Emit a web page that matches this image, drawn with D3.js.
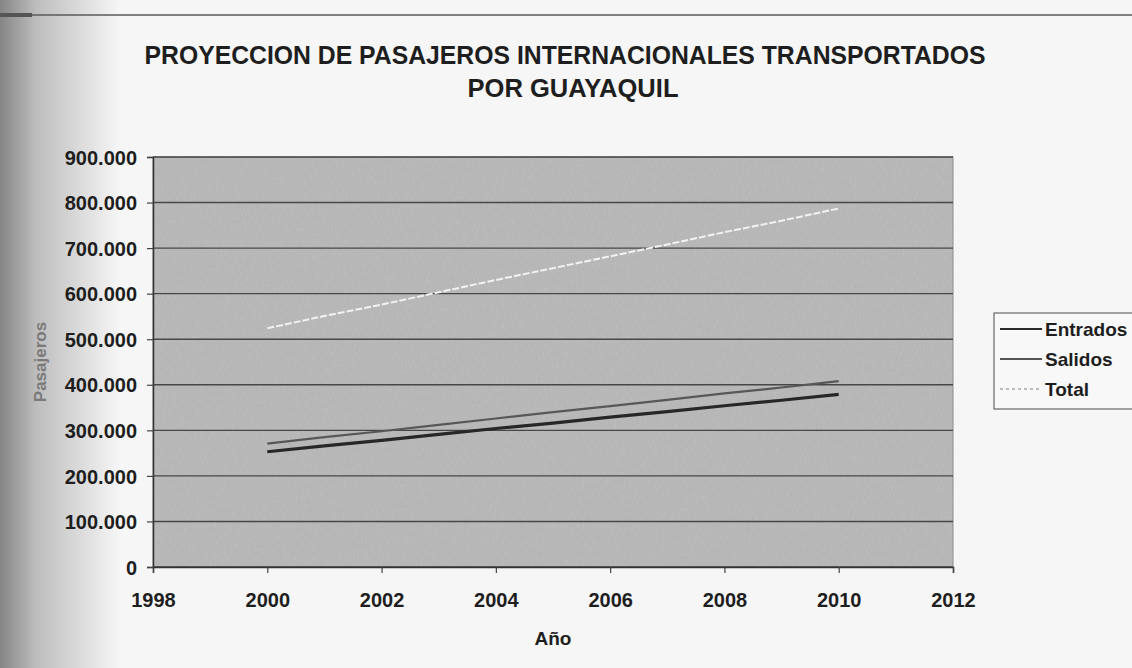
<!DOCTYPE html>
<html>
<head>
<meta charset="utf-8">
<script src="https://cdnjs.cloudflare.com/ajax/libs/d3/7.8.5/d3.min.js"></script>
<style>
    body { margin: 0; background: #f6f6f6; }
    svg { display: block; font-family: "Liberation Sans", Arial, sans-serif; font-weight: bold; }
</style>
</head>
<body>
<div class="chart"></div>
<script>
// Data (pasajeros)
var years = [2000, 2001, 2002, 2003, 2004, 2005, 2006, 2007, 2008, 2009, 2010];
var entrados = [253000, 266000, 278000, 291000, 304000, 316000, 329000, 341000, 354000, 366000, 379000];
var salidos = [271000, 285000, 298000, 312000, 326000, 340000, 353000, 367000, 381000, 394000, 408000];
var total = [524000, 551000, 576000, 603000, 630000, 656000, 682000, 708000, 735000, 760000, 787000];
var seriesNames = ["Entrados", "Salidos", "Total"];
var xTicks = [1998, 2000, 2002, 2004, 2006, 2008, 2010, 2012];
var yTicks = [0, 100000, 200000, 300000, 400000, 500000, 600000, 700000, 800000, 900000];

var width = 1132,
    height = 668;

var plot = {
    left: 153,
    right: 953,
    top: 157,
    bottom: 567
};

var svg = d3.select(".chart")
    .append("svg")
    .attr("width", width)
    .attr("height", height);

// scan shading on the left edge
var defs = svg.append("defs");
var grad = defs.append("linearGradient")
    .attr("id", "edge")
    .attr("x1", "0").attr("x2", "1")
    .attr("y1", "0").attr("y2", "0");
grad.append("stop").attr("offset", "0").attr("stop-color", "#858585");
grad.append("stop").attr("offset", "0.3").attr("stop-color", "#bdbdbd");
grad.append("stop").attr("offset", "1").attr("stop-color", "#f6f6f6");

// grain for the printed plot area
var grain = defs.append("filter")
    .attr("id", "grain")
    .attr("x", 0).attr("y", 0)
    .attr("width", 1).attr("height", 1);
grain.append("feTurbulence")
    .attr("type", "fractalNoise")
    .attr("baseFrequency", "0.9 0.25")
    .attr("numOctaves", 2)
    .attr("seed", 4)
    .attr("result", "noise");
grain.append("feColorMatrix")
    .attr("in", "noise")
    .attr("type", "matrix")
    .attr("values", "0 0 0 0 0.95  0 0 0 0 0.95  0 0 0 0 0.95  0.6 0 0 0 -0.25");

svg.append("rect")
    .attr("x", 0).attr("y", 0)
    .attr("width", 120).attr("height", height)
    .attr("fill", "url(#edge)");

// top rule of the page
svg.append("line")
    .attr("x1", 0).attr("x2", width)
    .attr("y1", 15).attr("y2", 15)
    .attr("stroke", "#5a5a5a")
    .attr("stroke-width", 1.5);
svg.append("rect")
    .attr("x", 0).attr("y", 13)
    .attr("width", 32).attr("height", 4)
    .attr("fill", "#555");

// scales
var x = d3.scaleLinear()
    .domain([1998, 2012])
    .range([plot.left, plot.right]);

var y = d3.scaleLinear()
    .domain([0, 900000])
    .range([plot.bottom, plot.top]);

// plot area
svg.append("rect")
    .attr("x", plot.left)
    .attr("y", plot.top)
    .attr("width", plot.right - plot.left)
    .attr("height", plot.bottom - plot.top)
    .attr("fill", "#b6b6b6")
    .attr("stroke", "#8a8a8a")
    .attr("stroke-width", 1);

svg.append("rect")
    .attr("x", plot.left)
    .attr("y", plot.top)
    .attr("width", plot.right - plot.left)
    .attr("height", plot.bottom - plot.top)
    .attr("fill", "#fff")
    .attr("filter", "url(#grain)")
    .attr("opacity", 0.35);

// gridlines
svg.append("g")
    .selectAll("line")
    .data(yTicks)
    .enter().append("line")
    .attr("x1", plot.left)
    .attr("x2", plot.right)
    .attr("y1", function (d) { return y(d); })
    .attr("y2", function (d) { return y(d); })
    .attr("stroke", "#474747")
    .attr("stroke-width", 1.4);

var fmt = function (d) {
    return d === 0 ? "0" : d3.format(",")(d).replace(/,/g, ".");
};

// axes
var yAxis = svg.append("g")
    .attr("transform", "translate(" + plot.left + ",0)")
    .call(d3.axisLeft(y).tickValues(yTicks).tickFormat(fmt).tickSize(6).tickPadding(10));

var xAxis = svg.append("g")
    .attr("transform", "translate(0," + plot.bottom + ")")
    .call(d3.axisBottom(x).tickValues(xTicks).tickFormat(d3.format("d")).tickSize(6).tickPadding(20));

[yAxis, xAxis].forEach(function (a) {
    a.select(".domain").attr("stroke", "#333").attr("stroke-width", 1.5);
    a.selectAll(".tick line").attr("stroke", "#444").attr("stroke-width", 1.2);
    a.selectAll(".tick text")
        .attr("fill", "#1e1e1e")
        .style("font-size", "20px")
        .style("font-family", "'Liberation Sans', Arial, sans-serif")
        .style("font-weight", "bold");
});
yAxis.selectAll(".tick text").attr("dy", "0.36em");

// lines
var styles = [
    { stroke: "#272727", width: 3.2, dash: null, legendStroke: "#2a2a2a", legendDash: null },
    { stroke: "#575757", width: 2.2, dash: null, legendStroke: "#555", legendDash: null },
    { stroke: "#f2f2f2", width: 2, dash: "7 2", legendStroke: "#a8a8a8", legendDash: "3 3" }
];

var seriesValues = [entrados, salidos, total];

var line = d3.line()
    .x(function (d, i) { return x(years[i]); })
    .y(function (d) { return y(d); });

svg.append("g")
    .selectAll("path")
    .data(seriesValues)
    .enter().append("path")
    .attr("d", line)
    .attr("fill", "none")
    .attr("stroke", function (d, i) { return styles[i].stroke; })
    .attr("stroke-width", function (d, i) { return styles[i].width; })
    .attr("stroke-dasharray", function (d, i) { return styles[i].dash; });

// title
svg.append("text")
    .attr("x", 565)
    .attr("y", 64)
    .attr("text-anchor", "middle")
    .attr("textLength", 841)
    .attr("lengthAdjust", "spacingAndGlyphs")
    .attr("fill", "#1e1e1e")
    .style("font-size", "26px")
    .text("PROYECCION DE PASAJEROS INTERNACIONALES TRANSPORTADOS");

svg.append("text")
    .attr("x", 573)
    .attr("y", 97)
    .attr("text-anchor", "middle")
    .attr("textLength", 211)
    .attr("lengthAdjust", "spacingAndGlyphs")
    .attr("fill", "#1e1e1e")
    .style("font-size", "26px")
    .text("POR GUAYAQUIL");

// axis titles
svg.append("text")
    .attr("x", 553)
    .attr("y", 645)
    .attr("text-anchor", "middle")
    .attr("fill", "#1e1e1e")
    .style("font-size", "19px")
    .text("Año");

svg.append("text")
    .attr("transform", "translate(46," + ((plot.top + plot.bottom) / 2) + ") rotate(-90)")
    .attr("text-anchor", "middle")
    .attr("fill", "#7a7a7a")
    .style("font-size", "17px")
    .text("Pasajeros");

// legend
var legend = svg.append("g")
    .attr("transform", "translate(994,313)");

legend.append("rect")
    .attr("x", 0).attr("y", 0)
    .attr("width", 150).attr("height", 96)
    .attr("fill", "#f8f8f8")
    .attr("stroke", "#4a4a4a")
    .attr("stroke-width", 1);

var item = legend.selectAll(".item")
    .data(seriesNames)
    .enter().append("g")
    .attr("class", "item")
    .attr("transform", function (d, i) { return "translate(0," + (16 + i * 30) + ")"; });

item.append("line")
    .attr("x1", 6).attr("x2", 48)
    .attr("y1", 0).attr("y2", 0)
    .attr("stroke", function (d, i) { return styles[i].legendStroke; })
    .attr("stroke-width", function (d, i) { return i === 2 ? 1.5 : 2.2; })
    .attr("stroke-dasharray", function (d, i) { return styles[i].legendDash; });

item.append("text")
    .attr("x", 51)
    .attr("dy", "0.36em")
    .attr("fill", "#1e1e1e")
    .style("font-size", "19px")
    .text(function (d) { return d; });
</script>
</body>
</html>
